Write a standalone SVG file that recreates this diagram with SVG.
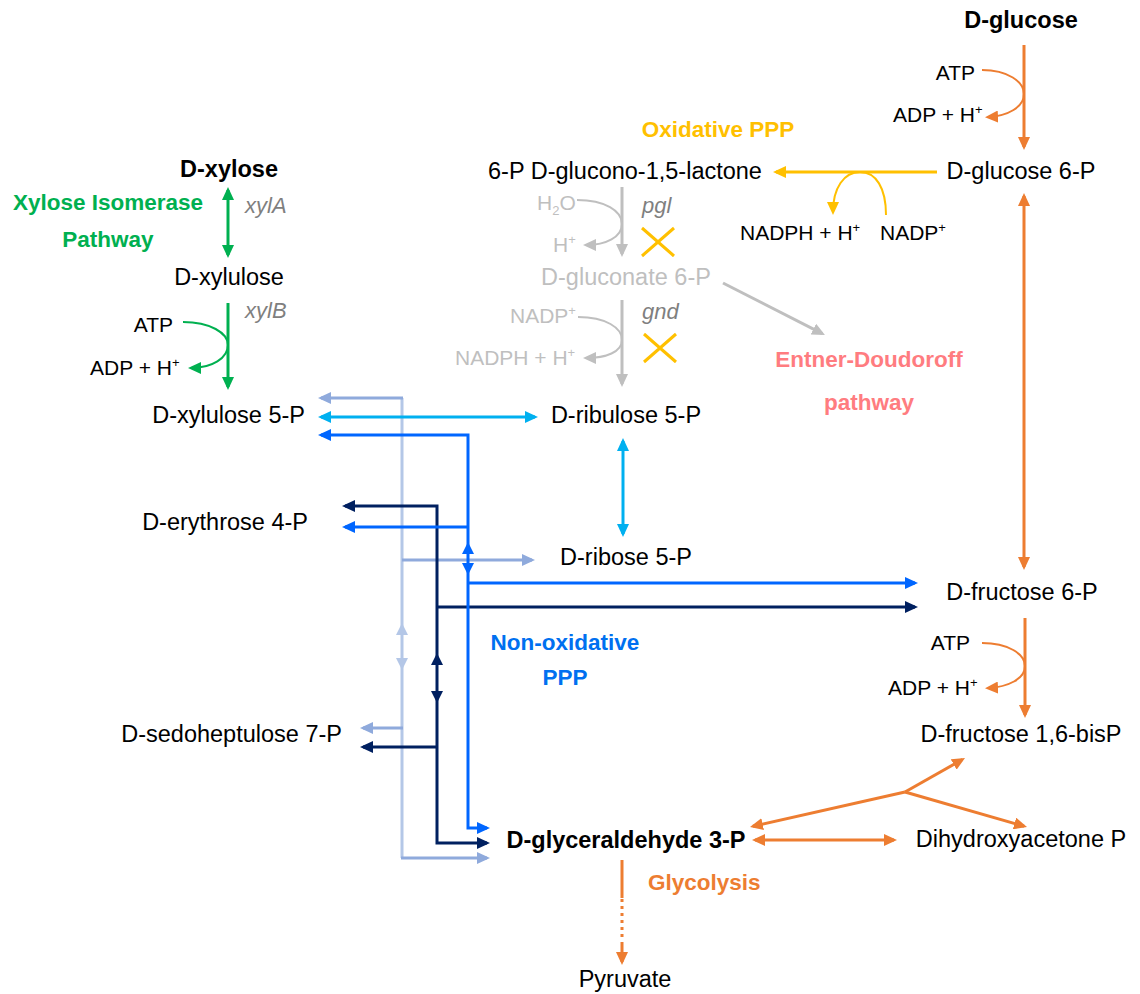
<svg xmlns="http://www.w3.org/2000/svg" width="1140" height="994" viewBox="0 0 1140 994">
  <style>
    text { font-family: "Liberation Sans", Arial, sans-serif; }
    .node { font-size: 23.5px; fill: #000; }
    .bold { font-weight: bold; }
    .cof { font-size: 21px; fill: #000; }
    .off { fill: #bfbfbf; }
    .gene { font-size: 22px; font-style: italic; fill: #7f7f7f; }
    .path-label { font-size: 22.5px; font-weight: bold; }
    .sup { font-size: 13px; }
    #connectors line, #connectors path { fill: none; }
    .or { stroke: #ed7d31; stroke-width: 3; }
    .or-thin { stroke: #ed7d31; stroke-width: 2; }
    .ye { stroke: #ffc000; stroke-width: 3; }
    .ye-thin { stroke: #ffc000; stroke-width: 2; }
    .gy { stroke: #bfbfbf; stroke-width: 3; }
    .gy-thin { stroke: #bfbfbf; stroke-width: 2; }
    .gr { stroke: #00b050; stroke-width: 3; }
    .gr-thin { stroke: #00b050; stroke-width: 2; }
    .cy { stroke: #00b0f0; stroke-width: 3; }
    .bl { stroke: #0066ff; stroke-width: 3; }
    .nv { stroke: #002060; stroke-width: 3; }
    .st { stroke: #8faadc; stroke-width: 3; }
    .st-v { stroke: #b4c7e7; stroke-width: 3; }
    .cross { stroke: #ffc000; stroke-width: 3; }
  </style>
  <defs>
    <marker id="ah-or" viewBox="0 0 13 12" markerUnits="userSpaceOnUse" markerWidth="13" markerHeight="12" refX="10" refY="6" orient="auto-start-reverse"><polygon points="0,0 13,6 0,12" fill="#ed7d31"/></marker>
    <marker id="ah-ye" viewBox="0 0 13 12" markerUnits="userSpaceOnUse" markerWidth="13" markerHeight="12" refX="10" refY="6" orient="auto-start-reverse"><polygon points="0,0 13,6 0,12" fill="#ffc000"/></marker>
    <marker id="ah-gy" viewBox="0 0 13 12" markerUnits="userSpaceOnUse" markerWidth="13" markerHeight="12" refX="10" refY="6" orient="auto-start-reverse"><polygon points="0,0 13,6 0,12" fill="#bfbfbf"/></marker>
    <marker id="ah-gr" viewBox="0 0 13 12" markerUnits="userSpaceOnUse" markerWidth="13" markerHeight="12" refX="10" refY="6" orient="auto-start-reverse"><polygon points="0,0 13,6 0,12" fill="#00b050"/></marker>
    <marker id="ah-cy" viewBox="0 0 13 12" markerUnits="userSpaceOnUse" markerWidth="13" markerHeight="12" refX="10" refY="6" orient="auto-start-reverse"><polygon points="0,0 13,6 0,12" fill="#00b0f0"/></marker>
    <marker id="ah-bl" viewBox="0 0 13 12" markerUnits="userSpaceOnUse" markerWidth="13" markerHeight="12" refX="10" refY="6" orient="auto-start-reverse"><polygon points="0,0 13,6 0,12" fill="#0066ff"/></marker>
    <marker id="ah-nv" viewBox="0 0 13 12" markerUnits="userSpaceOnUse" markerWidth="13" markerHeight="12" refX="10" refY="6" orient="auto-start-reverse"><polygon points="0,0 13,6 0,12" fill="#002060"/></marker>
    <marker id="ah-st" viewBox="0 0 13 12" markerUnits="userSpaceOnUse" markerWidth="13" markerHeight="12" refX="10" refY="6" orient="auto-start-reverse"><polygon points="0,0 13,6 0,12" fill="#8faadc"/></marker>
  </defs>

  <rect width="1140" height="994" fill="#ffffff"/>

  <!-- connectors -->
  <g id="connectors">
    <!-- glycolysis (orange) -->
    <line class="or" x1="1024" y1="45" x2="1024" y2="147" marker-end="url(#ah-or)"/>
    <path class="or-thin" d="M982,70 C1008,70 1024,82 1024,94 C1024,107 1008,116 988,117" marker-end="url(#ah-or)"/>
    <line class="or" x1="1024" y1="196" x2="1024" y2="567" marker-start="url(#ah-or)" marker-end="url(#ah-or)"/>
    <line class="or" x1="1025" y1="618" x2="1025" y2="715" marker-end="url(#ah-or)"/>
    <path class="or-thin" d="M982,643 C1008,643 1025,654 1025,666 C1025,679 1008,687 988,688" marker-end="url(#ah-or)"/>
    <line class="or" x1="905" y1="792" x2="962.4" y2="759.5" marker-end="url(#ah-or)"/>
    <line class="or" x1="905" y1="792" x2="1024.1" y2="826.2" marker-end="url(#ah-or)"/>
    <line class="or" x1="905" y1="792" x2="752.9" y2="826.3" marker-end="url(#ah-or)"/>
    <line class="or" x1="755" y1="840" x2="894" y2="840" marker-start="url(#ah-or)" marker-end="url(#ah-or)"/>
    <line class="or" x1="622" y1="860" x2="622" y2="898"/>
    <line class="or" x1="622" y1="899" x2="622" y2="940" stroke-dasharray="3 4"/>
    <line class="or" x1="622" y1="942" x2="622" y2="962" marker-end="url(#ah-or)"/>

    <!-- oxidative PPP (yellow) -->
    <line class="ye" x1="937" y1="172" x2="776" y2="172" marker-end="url(#ah-ye)"/>
    <path class="ye-thin" d="M886,215 C886,188 876,172 860,172 C844,172 833,188 833,212" marker-end="url(#ah-ye)"/>

    <!-- blocked steps (grey) -->
    <line class="gy" x1="622" y1="187" x2="622" y2="254" marker-end="url(#ah-gy)"/>
    <path class="gy-thin" d="M577,200 C605,200 622,211 622,224 C622,237 606,245 586,245" marker-end="url(#ah-gy)"/>
    <line class="gy" x1="622" y1="300" x2="622" y2="384" marker-end="url(#ah-gy)"/>
    <path class="gy-thin" d="M578,317 C606,317 622,328 622,340 C622,352 606,358 586,358" marker-end="url(#ah-gy)"/>
    <line class="gy" x1="723" y1="283" x2="822.3" y2="333.6" marker-end="url(#ah-gy)"/>
    <path class="cross" d="M642,228 L674,256 M674,228 L642,256"/>
    <path class="cross" d="M644,334 L676,362 M676,334 L644,362"/>

    <!-- xylose isomerase pathway (green) -->
    <line class="gr" x1="228" y1="190" x2="228" y2="255" marker-start="url(#ah-gr)" marker-end="url(#ah-gr)"/>
    <line class="gr" x1="228" y1="303" x2="228" y2="387" marker-end="url(#ah-gr)"/>
    <path class="gr-thin" d="M183,322 C210,322 228,333 228,345 C228,358 212,368 191,368" marker-end="url(#ah-gr)"/>

    <!-- non-oxidative PPP: transketolase / transaldolase routes -->
    <line class="st-v" x1="402" y1="398" x2="402" y2="858"/>
    <polygon points="402,623 396,635 408,635" fill="#b4c7e7"/>
    <polygon points="402,670 396,658 408,658" fill="#b4c7e7"/>
    <line class="st" x1="403" y1="398" x2="321" y2="398" marker-end="url(#ah-st)"/>
    <line class="st" x1="402" y1="560" x2="532" y2="560" marker-end="url(#ah-st)"/>
    <line class="st" x1="403" y1="728" x2="363" y2="728" marker-end="url(#ah-st)"/>
    <line class="st" x1="401" y1="858" x2="487" y2="858" marker-end="url(#ah-st)"/>

    <path class="nv" d="M345,506 H437 V843 H487" marker-start="url(#ah-nv)" marker-end="url(#ah-nv)"/>
    <line class="nv" x1="437" y1="607" x2="915" y2="607" marker-end="url(#ah-nv)"/>
    <line class="nv" x1="437" y1="747" x2="363" y2="747" marker-end="url(#ah-nv)"/>
    <polygon points="437,653 431,665 443,665" fill="#002060"/>
    <polygon points="437,703 431,691 443,691" fill="#002060"/>

    <path class="bl" d="M321,435 H468 V828 H487" marker-start="url(#ah-bl)" marker-end="url(#ah-bl)"/>
    <line class="bl" x1="468" y1="527" x2="345" y2="527" marker-end="url(#ah-bl)"/>
    <line class="bl" x1="468" y1="583" x2="915" y2="583" marker-end="url(#ah-bl)"/>
    <polygon points="468,542 462,554 474,554" fill="#0066ff"/>
    <polygon points="468,575 462,563 474,563" fill="#0066ff"/>

    <line class="cy" x1="321" y1="417" x2="535" y2="417" marker-start="url(#ah-cy)" marker-end="url(#ah-cy)"/>
    <line class="cy" x1="623" y1="441" x2="623" y2="534" marker-start="url(#ah-cy)" marker-end="url(#ah-cy)"/>
  </g>

  <!-- metabolites -->
  <g id="d-glucose"><text class="node bold" x="1021" y="28" text-anchor="middle">D-glucose</text></g>
  <g id="d-glucose-6p"><text class="node" x="1021" y="179" text-anchor="middle">D-glucose 6-P</text></g>
  <g id="glucono-lactone-6p"><text class="node" x="625" y="179" text-anchor="middle">6-P D-glucono-1,5-lactone</text></g>
  <g id="d-gluconate-6p"><text class="node off" x="626" y="285" text-anchor="middle">D-gluconate 6-P</text></g>
  <g id="d-ribulose-5p"><text class="node" x="626" y="423" text-anchor="middle">D-ribulose 5-P</text></g>
  <g id="d-ribose-5p"><text class="node" x="626" y="565" text-anchor="middle">D-ribose 5-P</text></g>
  <g id="d-xylose"><text class="node bold" x="229" y="177" text-anchor="middle">D-xylose</text></g>
  <g id="d-xylulose"><text class="node" x="229" y="285" text-anchor="middle">D-xylulose</text></g>
  <g id="d-xylulose-5p"><text class="node" x="305" y="423" text-anchor="end">D-xylulose 5-P</text></g>
  <g id="d-erythrose-4p"><text class="node" x="308" y="530" text-anchor="end">D-erythrose 4-P</text></g>
  <g id="d-sedoheptulose-7p"><text class="node" x="342" y="742" text-anchor="end">D-sedoheptulose 7-P</text></g>
  <g id="d-glyceraldehyde-3p"><text class="node bold" x="626" y="848" text-anchor="middle">D-glyceraldehyde 3-P</text></g>
  <g id="d-fructose-6p"><text class="node" x="1022" y="600" text-anchor="middle">D-fructose 6-P</text></g>
  <g id="d-fructose-16bisp"><text class="node" x="1021" y="742" text-anchor="middle">D-fructose 1,6-bisP</text></g>
  <g id="dihydroxyacetone-p"><text class="node" x="1021" y="847" text-anchor="middle">Dihydroxyacetone P</text></g>
  <g id="pyruvate"><text class="node" x="625" y="987" text-anchor="middle">Pyruvate</text></g>

  <!-- cofactors -->
  <g id="cofactors">
    <text class="cof" x="975" y="80" text-anchor="end">ATP</text>
    <text class="cof" x="893" y="122">ADP + H<tspan class="sup" dy="-8">+</tspan></text>
    <text class="cof" x="970" y="650" text-anchor="end">ATP</text>
    <text class="cof" x="888" y="695">ADP + H<tspan class="sup" dy="-8">+</tspan></text>
    <text class="cof" x="173" y="332" text-anchor="end">ATP</text>
    <text class="cof" x="90" y="375">ADP + H<tspan class="sup" dy="-8">+</tspan></text>
    <text class="cof" x="740" y="240">NADPH + H<tspan class="sup" dy="-8">+</tspan></text>
    <text class="cof" x="880" y="240">NADP<tspan class="sup" dy="-8">+</tspan></text>
    <text class="cof off" x="537" y="210">H<tspan class="sup" dy="5">2</tspan><tspan dy="-5">O</tspan></text>
    <text class="cof off" x="553" y="252">H<tspan class="sup" dy="-8">+</tspan></text>
    <text class="cof off" x="510" y="323">NADP<tspan class="sup" dy="-8">+</tspan></text>
    <text class="cof off" x="455" y="365">NADPH + H<tspan class="sup" dy="-8">+</tspan></text>
  </g>

  <!-- enzyme genes -->
  <g id="genes">
    <text class="gene" x="245" y="213">xylA</text>
    <text class="gene" x="245" y="318">xylB</text>
    <text class="gene" x="642" y="213">pgl</text>
    <text class="gene" x="642" y="319">gnd</text>
  </g>

  <!-- pathway names -->
  <g id="pathway-labels">
    <text class="path-label" x="718" y="137" text-anchor="middle" fill="#ffc000">Oxidative PPP</text>
    <text class="path-label" x="869" y="367" text-anchor="middle" fill="#ff7c80">Entner-Doudoroff</text>
    <text class="path-label" x="869" y="410" text-anchor="middle" fill="#ff7c80">pathway</text>
    <text class="path-label" x="108" y="210" text-anchor="middle" fill="#00b050">Xylose Isomerase</text>
    <text class="path-label" x="108" y="247" text-anchor="middle" fill="#00b050">Pathway</text>
    <text class="path-label" x="565" y="650" text-anchor="middle" fill="#0070f0">Non-oxidative</text>
    <text class="path-label" x="565" y="685" text-anchor="middle" fill="#0070f0">PPP</text>
    <text class="path-label" x="648" y="890" fill="#ed7d31">Glycolysis</text>
  </g>
</svg>
